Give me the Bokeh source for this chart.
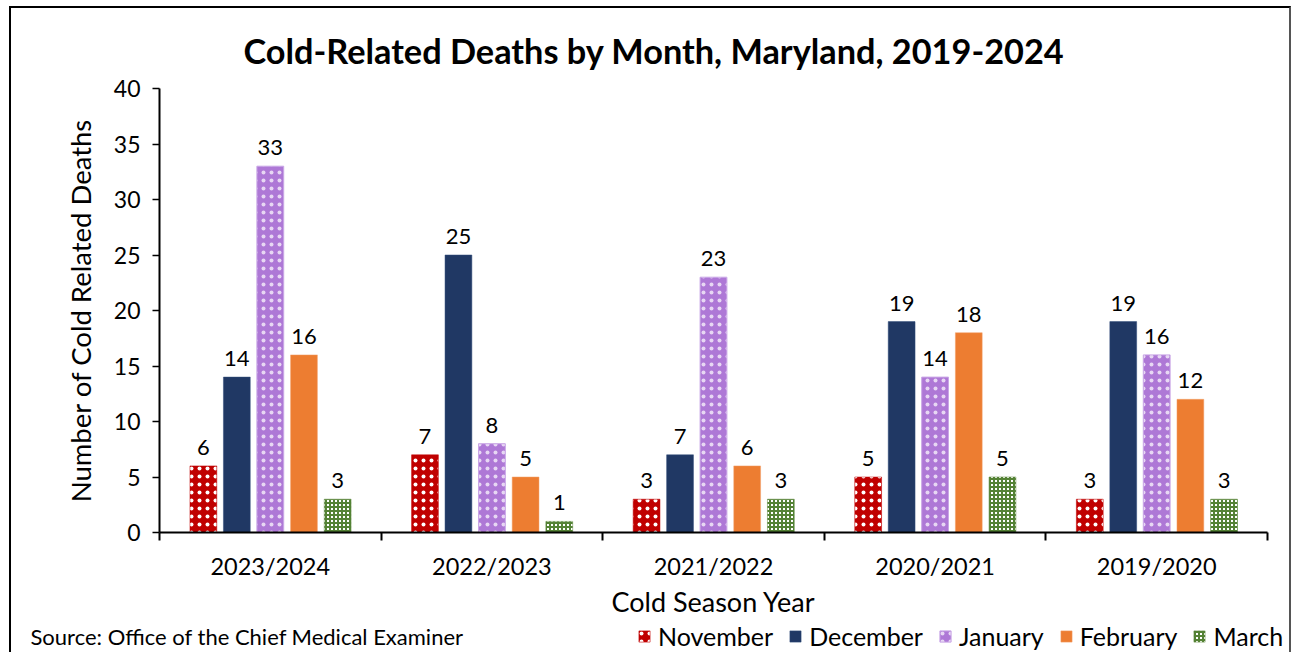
import numpy as np
from bokeh.plotting import figure
from bokeh.models import (ColumnDataSource, FixedTicker, Range1d, Legend, LegendItem, Title)
from bokeh.transform import dodge
from bokeh.core.properties import value
from bokeh.embed import file_html
from bokeh.resources import INLINE

seasons = ["2023/2024", "2022/2023", "2021/2022", "2020/2021", "2019/2020"]
months = ["November", "December", "January", "February", "March"]
november = [6, 7, 3, 5, 3]
december = [14, 25, 7, 19, 19]
january = [33, 8, 23, 14, 16]
february = [16, 5, 6, 18, 12]
march = [3, 1, 3, 5, 3]
y_ticks = [0, 5, 10, 15, 20, 25, 30, 35, 40]

title_text = "Cold-Related Deaths by Month, Maryland, 2019-2024"
source_text = "Source: Office of the Chief Medical Examiner"

FONT = "Lato"

styles = [
    dict(fill_color="#C00000", line_color="#C00000", line_width=0.5,
         hatch_pattern="dot", hatch_color="white", hatch_scale=8, hatch_weight=3),
    dict(fill_color="#203864", line_color="#2F4A78", line_width=0.5),
    dict(fill_color="#AE78D6", line_color="#C9A6E6", line_width=1,
         hatch_pattern="dot", hatch_color="white", hatch_scale=8, hatch_weight=1,
         hatch_alpha=0.7),
    dict(fill_color="#ED7D31", line_color="#F2A06B", line_width=0.5),
    dict(fill_color="white", line_color="#548235", line_width=0.5,
         hatch_pattern="cross", hatch_color="#548235", hatch_scale=4, hatch_weight=2),
]

xc = list(np.arange(len(seasons)) + 0.5)
src = ColumnDataSource(dict(xc=xc, nov=november, dec=december, jan=january,
                            feb=february, mar=march))
fields = ["nov", "dec", "jan", "feb", "mar"]

# ---------------- main chart ----------------
p = figure(width=1282, height=612, output_backend="svg", toolbar_location=None,
           x_range=Range1d(0, 5), y_range=Range1d(0, 40),
           min_border_left=148, min_border_right=26, min_border_top=80, min_border_bottom=88)
p.outline_line_color = None
p.grid.visible = False
p.styles = {"margin-left": "9px", "margin-top": "6px",
            "border-top": "2px solid #000", "border-left": "2px solid #000",
            "border-right": "2px solid #555"}

offs = [-0.302, -0.151, 0.0, 0.152, 0.304]
W = 0.121
for f, o, st in zip(fields, offs, styles):
    p.vbar(x=dodge("xc", o, range=p.x_range), top=f, width=W, bottom=0,
           source=src, **st)
    p.text(x=dodge("xc", o, range=p.x_range), y=f, text=f, source=src,
           text_font=value(FONT), text_font_size="22px", text_color="#000",
           text_align="center", text_baseline="bottom", y_offset=-11)

xa = p.xaxis[0]
xa.ticker = FixedTicker(ticks=xc, minor_ticks=list(range(len(seasons) + 1)))
xa.major_label_overrides = {float(v): s for v, s in zip(xc, seasons)}
xa.major_tick_out = 0
xa.major_tick_in = 0
xa.minor_tick_out = 8
xa.minor_tick_in = 0
xa.minor_tick_line_color = "black"
xa.minor_tick_line_width = 2
xa.axis_line_color = "black"
xa.axis_line_width = 2
xa.major_label_text_font = FONT
xa.major_label_text_font_size = "23.5px"
xa.major_label_text_color = "black"
xa.major_label_standoff = 11
xa.axis_label = "Cold Season Year"
xa.axis_label_text_font = FONT
xa.axis_label_text_font_size = "27px"
xa.axis_label_text_font_style = "normal"
xa.axis_label_text_color = "black"
xa.axis_label_standoff = 2

ya = p.yaxis[0]
ya.ticker = FixedTicker(ticks=y_ticks)
ya.minor_tick_line_color = None
ya.major_tick_out = 7
ya.major_tick_in = 0
ya.major_tick_line_color = "black"
ya.major_tick_line_width = 1.5
ya.axis_line_color = "black"
ya.axis_line_width = 2
ya.major_label_text_font = FONT
ya.major_label_text_font_size = "23px"
ya.major_label_text_color = "black"
ya.major_label_standoff = 12
ya.axis_label = "Number of Cold Related Deaths"
ya.axis_label_text_font = FONT
ya.axis_label_text_font_size = "27.5px"
ya.axis_label_text_font_style = "normal"
ya.axis_label_text_color = "black"
ya.axis_label_standoff = 14

p.add_layout(Title(text=title_text, align="left", offset=84, text_font=FONT,
                   text_font_size="34.3px", text_font_style="bold", text_color="black",
                   standoff=36), "above")

# ---------------- footer: source note + legend ----------------
pf = figure(width=1282, height=34, output_backend="svg", toolbar_location=None,
            x_range=Range1d(0, 1282), y_range=Range1d(0, 34),
            x_axis_type=None, y_axis_type=None, min_border=0)
pf.outline_line_color = None
pf.grid.visible = False
pf.styles = {"margin-left": "9px",
             "border-left": "2px solid #000", "border-right": "2px solid #555"}
pf.text(x=[19], y=[16], text=[source_text], text_font=value(FONT),
        text_font_size="22px", text_color="black",
        text_align="left", text_baseline="middle")

items = []
for m, f, st in zip(months, fields, styles):
    r = pf.vbar(x="xc", top=f, width=W, source=src, visible=False, **st)
    items.append(LegendItem(label=m, renderers=[r]))
legend = Legend(items=items, orientation="horizontal", location=(626, 1),
                label_text_font=FONT, label_text_font_size="25px", label_text_color="black",
                glyph_width=14, glyph_height=14, spacing=15, padding=0, margin=0,
                label_standoff=7, border_line_color=None, background_fill_alpha=0,
                inactive_fill_alpha=0, click_policy="none")
pf.add_layout(legend, "center")

open("out.html", "w").write(file_html([p, pf], INLINE))
